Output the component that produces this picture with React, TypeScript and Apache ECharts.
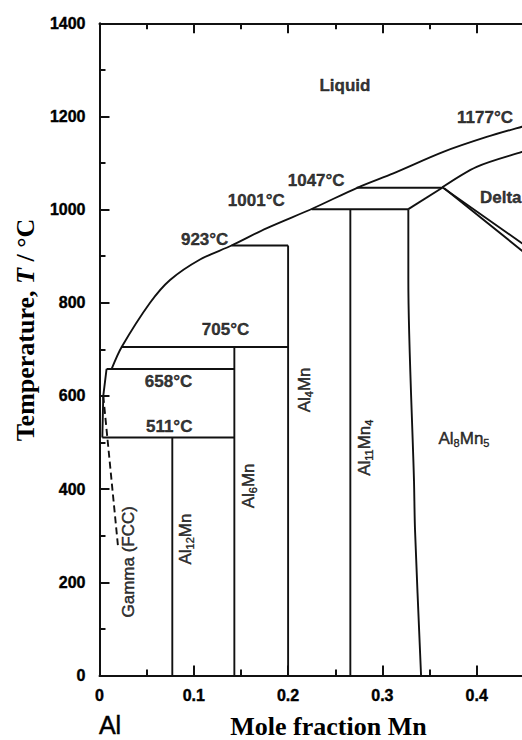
import React, { useEffect, useRef } from "react";
import * as echarts from "echarts";

// ---- axis ticks ----
const xTicks = [0, 0.1, 0.2, 0.3, 0.4, 0.5];
const xTickLabels = ["0", "0.1", "0.2", "0.3", "0.4", ""];
const yTicks = [0, 200, 400, 600, 800, 1000, 1200, 1400];

// ---- phase boundary lines: [mole fraction Mn, temperature °C] ----
const liquidus = [
  [0.0129, 658], [0.0235, 705], [0.0536, 800], [0.0748, 849], [0.1066, 893],
  [0.14, 923], [0.177, 960], [0.2267, 1003], [0.2744, 1048], [0.3116, 1078],
  [0.3646, 1124], [0.4106, 1156], [0.448, 1178], [0.47, 1190],
];
const deltaUpper = [[0.3635, 1048], [0.4, 1092], [0.448, 1124], [0.47, 1137]];
const deltaLowerA = [[0.3635, 1048], [0.448, 928], [0.47, 897]];
const deltaLowerB = [[0.3655, 1046], [0.448, 912], [0.47, 876]];
const iso1047 = [[0.2727, 1047], [0.3635, 1047]];
const iso1001 = [[0.225, 1001], [0.3275, 1001]];
const iso923 = [[0.14, 923], [0.2, 923]];
const iso705 = [[0.0235, 705], [0.2, 705]];
const iso658 = [[0.0075, 658], [0.143, 658]];
const iso511 = [[0.003, 511], [0.143, 511]];
const al8mn5Edge = [[0.3275, 1001], [0.3635, 1047]];
const al8mn5Left = [[0.3275, 1001], [0.3275, 850], [0.3335, 418], [0.3346, 312], [0.341, 0]];
const al11mn4Line = [[0.266, 0], [0.266, 1001]];
const al4mnLine = [[0.2, 0], [0.2, 923]];
const al6mnLine = [[0.143, 0], [0.143, 705]];
const al12mnLine = [[0.0772, 0], [0.0772, 511]];
const fccSolvus = [[0.0075, 658], [0.004, 600], [0.003, 511]];
const fccSolvusDashed = [[0.004, 600], [0.0195, 280]];

// ---- annotations ----
const annText = [
  "{b|Liquid}", "{b|1177°C}", "{b|1047°C}", "{b|1001°C}", "{b|923°C}", "{b|Delta}",
  "{b|705°C}", "{b|658°C}", "{b|511°C}",
  "{n|Gamma (FCC)}", "{n|Al}{s|12}{n|Mn}", "{n|Al}{s|6}{n|Mn}", "{n|Al}{s|4}{n|Mn}",
  "{n|Al}{s|11}{n|Mn}{s|4}", "{n|Al}{s|8}{n|Mn}{s|5}",
];
const annX = [0.2603, 0.4088, 0.2298, 0.1663, 0.1115, 0.4035, 0.1336, 0.0732, 0.0739,
  0.0307, 0.0912, 0.1585, 0.2169, 0.2805, 0.3865];
const annT = [1266, 1198, 1063, 1019, 935, 1027, 742, 631, 534,
  244, 293, 407, 613, 489, 509];
const annRotate = [0, 0, 0, 0, 0, 0, 0, 0, 0, 90, 90, 90, 90, 90, 0];
const annAlign = ["center", "center", "center", "center", "center", "left", "center", "center", "center",
  "center", "center", "center", "center", "center", "center"];

const INK = "#000";
const SANS = '"Liberation Sans", Arial, sans-serif';
const SERIF = '"Liberation Serif", "Times New Roman", serif';

function lineSeries(data: number[][], dashed = false, smooth: boolean | number = false) {
  return {
    type: "line",
    data,
    showSymbol: false,
    symbol: "none",
    smooth,
    silent: true,
    clip: false,
    lineStyle: { color: "#111", width: 1.9, type: dashed ? [7, 4] : "solid" },
  };
}

export default function App() {
  const ref = useRef<HTMLDivElement>(null);
  useEffect(() => {
    if (!ref.current) return;
    const chart = echarts.init(ref.current, undefined, { renderer: "svg" });
    const axisCommon = {
      type: "value",
      axisLine: { show: true, lineStyle: { color: "#111", width: 2 } },
      axisTick: { show: true, inside: true, length: 10, lineStyle: { color: "#111", width: 2 } },
      minorTick: { show: true, splitNumber: 2, length: 6, lineStyle: { color: "#111", width: 2 } },
      splitLine: { show: false },
      minorSplitLine: { show: false },
    };
    const rich = {
      b: { fontFamily: SANS, fontWeight: "bold", fontSize: 17, color: INK, lineHeight: 20, textBorderColor: INK, textBorderWidth: 0.4 },
      n: { fontFamily: SANS, fontWeight: "normal", fontSize: 17, color: INK, lineHeight: 20, textBorderColor: INK, textBorderWidth: 0.5 },
      s: { fontFamily: SANS, fontWeight: "normal", fontSize: 11, color: INK, lineHeight: 12, verticalAlign: "bottom", textBorderColor: INK, textBorderWidth: 0.4 },
    };
    const annData = annText.map((t, i) => ({
      value: [annX[i], annT[i]],
      label: {
        show: true,
        position: ["50%", "50%"],
        formatter: t,
        rotate: annRotate[i],
        align: annAlign[i],
        verticalAlign: "middle",
        color: INK,
        rich,
      },
    }));
    const tickLabelStyle = {
      fontFamily: SANS,
      fontWeight: "bold",
      fontSize: 16,
      color: INK,
      textBorderColor: INK,
      textBorderWidth: 0.4,
    };
    chart.setOption({
      animation: false,
      backgroundColor: "#fff",
      grid: { left: 99.5, top: 23.3, bottom: 64.5, right: 29 },
      xAxis: [
        {
          ...axisCommon,
          position: "bottom",
          min: xTicks[0],
          max: xTicks[xTicks.length - 1],
          interval: 0.1,
          axisLabel: {
            show: true,
            margin: 12,
            ...tickLabelStyle,
            formatter: (v: number) => {
              const i = xTicks.findIndex((t) => Math.abs(t - v) < 1e-9);
              return i >= 0 ? xTickLabels[i] : "";
            },
          },
        },
        {
          ...axisCommon,
          position: "top",
          min: xTicks[0],
          max: xTicks[xTicks.length - 1],
          interval: 0.1,
          axisLabel: { show: false },
        },
      ],
      yAxis: [
        {
          ...axisCommon,
          position: "left",
          min: yTicks[0],
          max: yTicks[yTicks.length - 1],
          interval: 200,
          axisLabel: {
            show: true,
            margin: 14,
            ...tickLabelStyle,
            formatter: (v: number) => String(v),
          },
        },
      ],
      series: [
        lineSeries(liquidus, false, 0.3),
        lineSeries(deltaUpper, false, 0.3),
        lineSeries(deltaLowerA),
        lineSeries(deltaLowerB),
        lineSeries(iso1047),
        lineSeries(iso1001),
        lineSeries(iso923),
        lineSeries(iso705),
        lineSeries(iso658),
        lineSeries(iso511),
        lineSeries(al8mn5Edge),
        lineSeries(al8mn5Left, false, 0.3),
        lineSeries(al11mn4Line),
        lineSeries(al4mnLine),
        lineSeries(al6mnLine),
        lineSeries(al12mnLine),
        lineSeries(fccSolvus),
        lineSeries(fccSolvusDashed, true),
        {
          type: "scatter",
          data: annData,
          symbolSize: 1,
          silent: true,
          itemStyle: { color: "rgba(255,255,255,0)" },
          z: 5,
        },
      ],
      graphic: [
        {
          type: "text",
          x: 25,
          y: 330,
          rotation: Math.PI / 2,
          style: {
            text: "{a|Temperature, }{i|T}{a| / °C}",
            align: "center",
            verticalAlign: "middle",
            rich: {
              a: { fontFamily: SERIF, fontWeight: "bold", fontSize: 26, fill: INK },
              i: { fontFamily: SERIF, fontWeight: "bold", fontStyle: "italic", fontSize: 26, fill: INK },
            },
          },
        },
        {
          type: "text",
          x: 110,
          y: 725,
          style: {
            text: "Al",
            fontFamily: SANS,
            fontSize: 25,
            fill: INK,
            stroke: INK,
            lineWidth: 0.5,
            align: "center",
            verticalAlign: "middle",
          },
        },
        {
          type: "text",
          x: 328.5,
          y: 726,
          style: {
            text: "Mole fraction Mn",
            fontFamily: SERIF,
            fontWeight: "bold",
            fontSize: 26,
            fill: INK,
            align: "center",
            verticalAlign: "middle",
          },
        },
      ],
    });
    return () => chart.dispose();
  }, []);
  return (
    <div
      ref={ref}
      style={{ position: "fixed", left: 0, top: 0, width: 600, height: 740, background: "#fff" }}
    />
  );
}
